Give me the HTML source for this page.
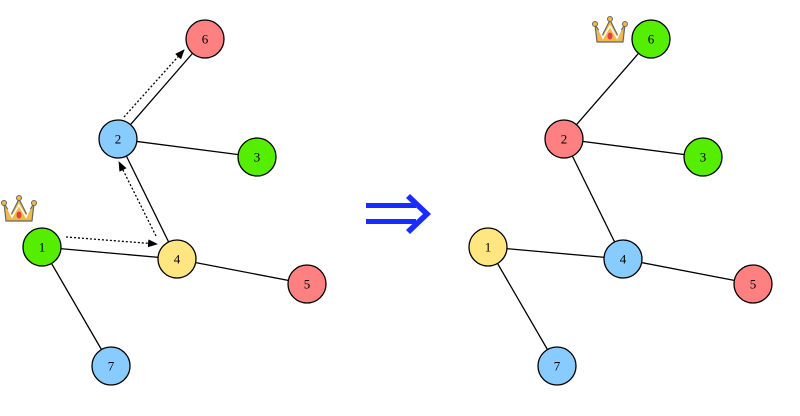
<!DOCTYPE html>
<html><head><style>body{margin:0;background:#fff}</style></head><body>
<svg width="800" height="411" xmlns="http://www.w3.org/2000/svg" font-family="Liberation Serif, serif" font-size="13">
<defs>
<marker id="ah" markerWidth="10" markerHeight="8" refX="9" refY="4" orient="auto" markerUnits="userSpaceOnUse"><path d="M0,0 L10,4 L0,8z" fill="#000"/></marker>
<g id="crown">
<path d="M1,8 L8,20 L16,4 L24,20 L31,8 L29,26 L3,26z" fill="#f2b84b" stroke="#666" stroke-width="1.2" stroke-linejoin="round"/>
<path d="M5,14 L9,22 L16,10 L23,22 L27,14" fill="none" stroke="#fff" stroke-width="1.5"/>
<circle cx="1" cy="8" r="2.5" fill="#f2b84b" stroke="#666"/><circle cx="16" cy="3" r="2.5" fill="#f2b84b" stroke="#666"/><circle cx="31" cy="8" r="2.5" fill="#f2b84b" stroke="#666"/>
<ellipse cx="16" cy="20" rx="2.5" ry="3.5" fill="#e04040"/>
</g>
</defs>
<g stroke="#000" stroke-width="1.3">
<line x1="205" y1="39" x2="118" y2="139"/><line x1="118" y1="139" x2="257" y2="157"/><line x1="118" y1="139" x2="177" y2="259"/>
<line x1="42" y1="247" x2="177" y2="259"/><line x1="177" y1="259" x2="307" y2="284"/><line x1="42" y1="247" x2="111" y2="366"/>
<line x1="651" y1="39" x2="564" y2="139"/><line x1="564" y1="139" x2="703" y2="157"/><line x1="564" y1="139" x2="623" y2="259"/>
<line x1="488" y1="247" x2="623" y2="259"/><line x1="623" y1="259" x2="753" y2="284"/><line x1="488" y1="247" x2="557" y2="366"/>
</g>
<g stroke="#000" stroke-width="1.3" stroke-dasharray="2,2" fill="none">
<line x1="66" y1="237" x2="157" y2="244" marker-end="url(#ah)"/>
<line x1="156" y1="236" x2="119" y2="162" marker-end="url(#ah)"/>
<line x1="124" y1="117" x2="184" y2="50" marker-end="url(#ah)"/>
</g>
<g stroke="#000" stroke-width="1.3">
<circle cx="205" cy="39" r="19" fill="#ff8080"/><circle cx="118" cy="139" r="19" fill="#88ccff"/><circle cx="257" cy="157" r="19" fill="#55ee00"/>
<circle cx="42" cy="247" r="19" fill="#55ee00"/><circle cx="177" cy="259" r="19" fill="#ffe680"/><circle cx="307" cy="284" r="19" fill="#ff8080"/><circle cx="111" cy="366" r="19" fill="#88ccff"/>
<circle cx="651" cy="39" r="19" fill="#55ee00"/><circle cx="564" cy="139" r="19" fill="#ff8080"/><circle cx="703" cy="157" r="19" fill="#55ee00"/>
<circle cx="488" cy="247" r="19" fill="#ffe680"/><circle cx="623" cy="259" r="19" fill="#88ccff"/><circle cx="753" cy="284" r="19" fill="#ff8080"/><circle cx="557" cy="366" r="19" fill="#88ccff"/>
</g>
<g text-anchor="middle" dominant-baseline="central">
<text x="205" y="39">6</text><text x="118" y="139">2</text><text x="257" y="157">3</text><text x="42" y="247">1</text><text x="177" y="259">4</text><text x="307" y="284">5</text><text x="111" y="366">7</text>
<text x="651" y="39">6</text><text x="564" y="139">2</text><text x="703" y="157">3</text><text x="488" y="247">1</text><text x="623" y="259">4</text><text x="753" y="284">5</text><text x="557" y="366">7</text>
</g>
<use href="#crown" x="3" y="195"/>
<use href="#crown" x="594" y="16"/>
<g fill="#1a2cff">
<rect x="366" y="203" width="50" height="5"/><rect x="366" y="219" width="50" height="5"/>
<path d="M410,194 L431,214 L410,234 L406,230 L423,214 L406,198z"/>
</g>
</svg>
</body></html>
